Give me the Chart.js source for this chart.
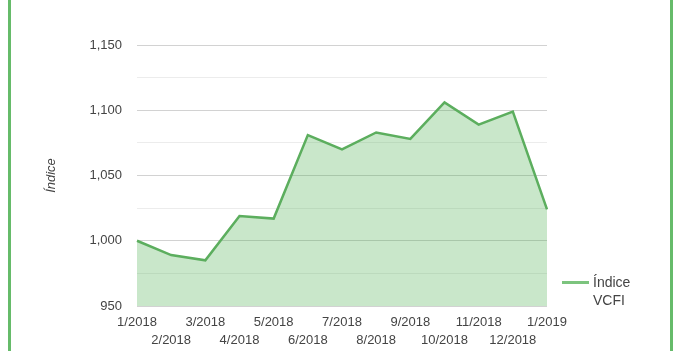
<!DOCTYPE html>
<html>
<head>
<meta charset="utf-8">
<script src="https://cdn.jsdelivr.net/npm/chart.js@4"></script>
<style>
  html, body { margin: 0; padding: 0; background: #fff; }
  #wrap { position: relative; width: 682px; height: 351px; overflow: hidden; }
  #frame { position: absolute; left: 8px; top: -5px; width: 659px; height: 370px;
           border-left: 3px solid #66bb6a; border-right: 3px solid #66bb6a; }
  #legend { position: absolute; left: 562px; top: 273px; font: 14px "Liberation Sans", Arial, sans-serif;
            color: #444; line-height: 18px; }
  #legend .swatch { position: absolute; left: 0; top: 8px; width: 27px; height: 3px; background: #7cc47e; }
  #legend .txt { margin-left: 31px; }
</style>
</head>
<body>
<div id="wrap">
  <canvas id="chart" width="682" height="351"></canvas>
  <div id="frame"></div>
  <div id="legend"><span class="swatch"></span><div class="txt">Índice<br>VCFI</div></div>
</div>
<script>
// 数据
const labels = ['1/2018', '2/2018', '3/2018', '4/2018', '5/2018', '6/2018', '7/2018',
                '8/2018', '9/2018', '10/2018', '11/2018', '12/2018', '1/2019'];
const indiceValues = [1000, 989, 985, 1019, 1017, 1081, 1070, 1083, 1078, 1106, 1089, 1099, 1024];
const yMin = 950;
const yMax = 1150;

const font = { family: '"Liberation Sans", Arial, sans-serif', size: 13 };

new Chart(document.getElementById('chart').getContext('2d'), {
    type: 'line',
    data: {
        labels: labels,
        datasets: [{
            label: 'Índice VCFI',
            data: indiceValues,
            borderColor: '#5cae5e',
            borderWidth: 2.5,
            backgroundColor: 'rgba(76, 175, 80, 0.3)',
            fill: 'start',
            pointRadius: 0,
            tension: 0
        }]
    },
    options: {
        responsive: false,
        animation: false,
        layout: { padding: { left: 20, right: 135, top: 45, bottom: 0 } },
        plugins: { legend: { display: false }, tooltip: { enabled: false } },
        scales: {
            x: {
                grid: { display: false, drawTicks: false },
                border: { display: false },
                ticks: {
                    autoSkip: false,
                    maxRotation: 0,
                    minRotation: 0,
                    padding: 7,
                    color: '#444',
                    font: { ...font, lineHeight: 1.4 },
                    // 交错两行显示
                    callback: function (value, index) {
                        return index % 2 === 0 ? [labels[index]] : ['', labels[index]];
                    }
                },
                afterFit: scale => { scale.height = 45; }
            },
            y: {
                min: yMin,
                max: yMax,
                grid: {
                    drawTicks: false,
                    color: ctx => (ctx.tick && ctx.tick.value % 50 === 0) ? '#d2d2d2' : '#ececec'
                },
                border: { display: false },
                ticks: {
                    stepSize: 25,
                    padding: 15,
                    color: '#444',
                    font: font,
                    callback: v => v % 50 === 0 ? v.toLocaleString('en-US') : ''
                },
                title: {
                    display: true,
                    text: 'Índice',
                    color: '#444',
                    padding: { top: 24, bottom: 0 },
                    font: { ...font, style: 'italic' }
                },
                afterFit: scale => { scale.width = 117; }
            }
        }
    }
});
</script>
</body>
</html>
